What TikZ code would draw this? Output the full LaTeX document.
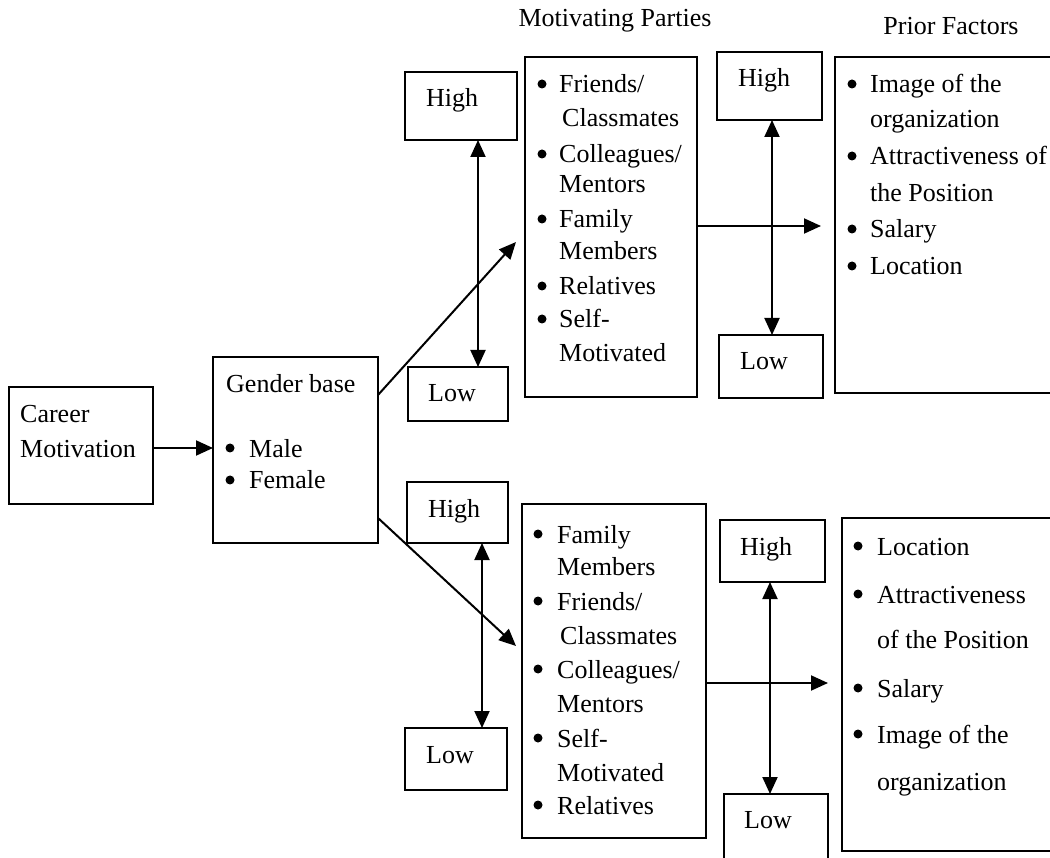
\documentclass[tikz,border=0pt]{standalone}
\usepackage{fontspec}
\setmainfont{Liberation Serif}
\usetikzlibrary{arrows.meta,fit}
\newcommand\bigfnt{\fontsize{26pt}{30pt}\selectfont}
\tikzset{
  box/.style={draw, line width=2pt, inner sep=0pt, outer sep=0pt},
  txt/.style={anchor=base west, inner sep=0pt, font=\bigfnt},
  ctxt/.style={anchor=base, inner sep=0pt, font=\bigfnt},
  bul/.style={circle, fill, inner sep=0pt, minimum size=9pt},
  tipA/.tip={Triangle[length=17pt,width=15pt]},
  arr/.style={line width=2pt, -tipA},
  darr/.style={line width=2pt, tipA-tipA}
}
\begin{document}
\begin{tikzpicture}[x=1pt,y=-1pt]
\useasboundingbox (0,0) rectangle (1050,858);
\clip (0,0) rectangle (1050,858);
% boxes
\node[box, fit={(9,387) (153,504)}] (career) {};
\node[box, fit={(213,357) (378,543)}] (gender) {};
\node[box, fit={(405,72) (517,140)}] (high1) {};
\node[box, fit={(408,367) (508,421)}] (low1) {};
\node[box, fit={(525,57) (697,397)}] (mp1) {};
\node[box, fit={(717,52) (822,120)}] (high2) {};
\node[box, fit={(719,335) (823,398)}] (low2) {};
\node[box, fit={(835,57) (1080,393)}] (pf1) {};
\node[box, fit={(407,482) (508,543)}] (high3) {};
\node[box, fit={(405,728) (507,790)}] (low3) {};
\node[box, fit={(522,504) (706,838)}] (mp2) {};
\node[box, fit={(720,520) (825,582)}] (high4) {};
\node[box, fit={(724,794) (828,880)}] (low4) {};
\node[box, fit={(842,518) (1080,851)}] (pf2) {};
% titles
\node[ctxt] (titmp) at (615,27) {Motivating Parties};
\node[ctxt] (titpf) at (951,35) {Prior Factors};
% career
\node[txt] (tc1) at (20,423) {Career};
\node[txt] (tc2) at (20,457) {Motivation};
% gender
\node[txt] (tg0) at (226,393) {Gender base};
\node[bul] (bg1) at (230,448) {};
\node[txt] (tg1) at (249,457) {Male};
\node[bul] (bg2) at (230,480) {};
\node[txt] (tg2) at (249,489) {Female};
% high / low labels
\node[ctxt] (th1) at (452,107) {High};
\node[ctxt] (tl1) at (452,402) {Low};
\node[ctxt] (th2) at (764,87) {High};
\node[ctxt] (tl2) at (764,370) {Low};
\node[ctxt] (th3) at (454,517) {High};
\node[ctxt] (tl3) at (450,763) {Low};
\node[ctxt] (th4) at (766,555) {High};
\node[ctxt] (tl4) at (768,828) {Low};
% motivating parties 1
\node[bul] (bm1a) at (542,84) {};
\node[txt] (tm1a) at (559,93) {Friends/};
\node[txt] (tm1b) at (562,127) {Classmates};
\node[bul] (bm1c) at (542,154) {};
\node[txt] (tm1c) at (559,163) {Colleagues/};
\node[txt] (tm1d) at (559,193) {Mentors};
\node[bul] (bm1e) at (542,219) {};
\node[txt] (tm1e) at (559,228) {Family};
\node[txt] (tm1f) at (559,260) {Members};
\node[bul] (bm1g) at (542,286) {};
\node[txt] (tm1g) at (559,295) {Relatives};
\node[bul] (bm1h) at (542,319) {};
\node[txt] (tm1h) at (559,328) {Self-};
\node[txt] (tm1i) at (559,362) {Motivated};
% motivating parties 2
\node[bul] (bm2a) at (538,534) {};
\node[txt] (tm2a) at (557,543) {Family};
\node[txt] (tm2b) at (557,575) {Members};
\node[bul] (bm2c) at (538,601) {};
\node[txt] (tm2c) at (557,610) {Friends/};
\node[txt] (tm2d) at (560,644) {Classmates};
\node[bul] (bm2e) at (538,669) {};
\node[txt] (tm2e) at (557,678) {Colleagues/};
\node[txt] (tm2f) at (557,712) {Mentors};
\node[bul] (bm2g) at (538,738) {};
\node[txt] (tm2g) at (557,747) {Self-};
\node[txt] (tm2h) at (557,781) {Motivated};
\node[bul] (bm2i) at (538,805) {};
\node[txt] (tm2i) at (557,814) {Relatives};
% prior factors 1
\node[bul] (bp1a) at (852,84) {};
\node[txt] (tp1a) at (870,93) {Image of the};
\node[txt] (tp1b) at (870,128) {organization};
\node[bul] (bp1c) at (852,156) {};
\node[txt] (tp1c) at (870,165) {Attractiveness of};
\node[txt] (tp1d) at (870,202) {the Position};
\node[bul] (bp1e) at (852,229) {};
\node[txt] (tp1e) at (870,238) {Salary};
\node[bul] (bp1f) at (852,266) {};
\node[txt] (tp1f) at (870,275) {Location};
% prior factors 2
\node[bul] (bp2a) at (858,546) {};
\node[txt] (tp2a) at (877,555) {Location};
\node[bul] (bp2b) at (858,594) {};
\node[txt] (tp2b) at (877,603) {Attractiveness};
\node[txt] (tp2c) at (877,648) {of the Position};
\node[bul] (bp2d) at (858,688) {};
\node[txt] (tp2d) at (877,697) {Salary};
\node[bul] (bp2e) at (858,734) {};
\node[txt] (tp2e) at (877,743) {Image of the};
\node[txt] (tp2f) at (877,790) {organization};
% connector helper coordinates
\coordinate (s1) at (378,395);
\coordinate (e1) at (516,242);
\coordinate (s2) at (378,518);
\coordinate (e2) at (516,646);
\coordinate (x1) at (478,0);
\coordinate (x2) at (772,0);
\coordinate (x3) at (482,0);
\coordinate (x4) at (770,0);
\coordinate (h1s) at (697,226);
\coordinate (h1e) at (821,226);
\coordinate (h2s) at (706,683);
\coordinate (h2e) at (828,683);
% connectors
\draw[arr] (career.east |- 0,448) -- (gender.west |- 0,448);
\draw[arr] (s1) -- (e1);
\draw[arr] (s2) -- (e2);
\draw[darr] (high1.south -| x1) -- (low1.north -| x1);
\draw[darr] (high2.south -| x2) -- (low2.north -| x2);
\draw[darr] (high3.south -| x3) -- (low3.north -| x3);
\draw[darr] (high4.south -| x4) -- (low4.north -| x4);
\draw[arr] (h1s) -- (h1e);
\draw[arr] (h2s) -- (h2e);
\end{tikzpicture}
\end{document}
